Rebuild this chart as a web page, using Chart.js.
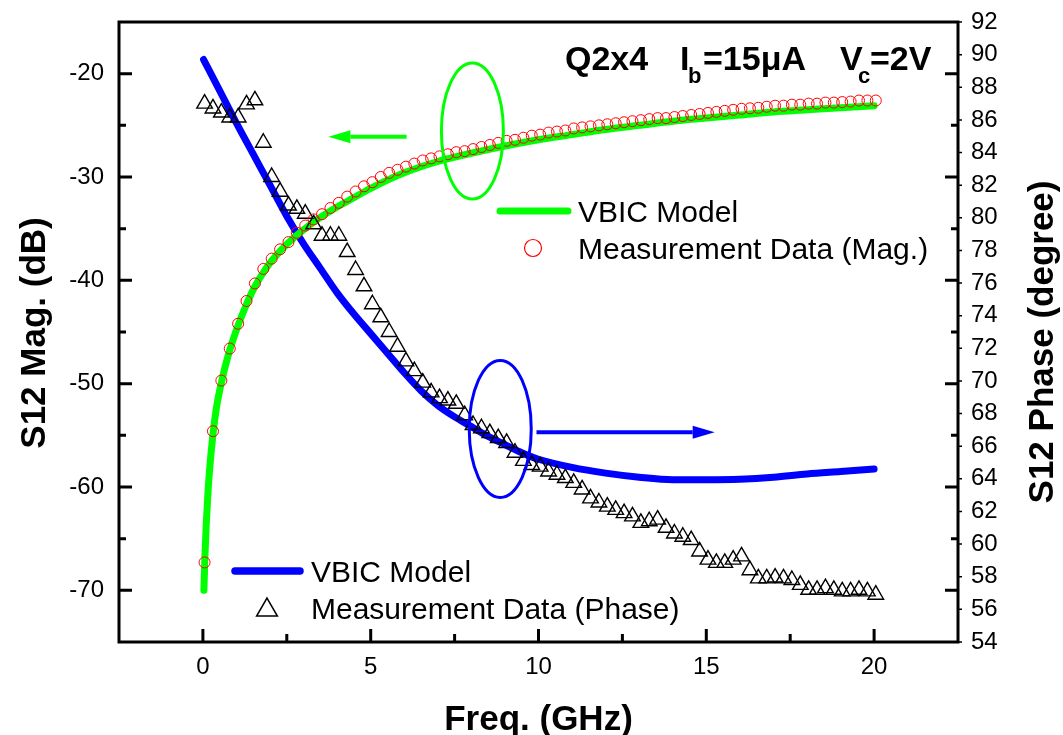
<!DOCTYPE html>
<html>
<head>
<meta charset="utf-8">
<title>S12 Mag / Phase - Q2x4</title>
<script src="https://cdn.jsdelivr.net/npm/chart.js@4.4.1/dist/chart.umd.min.js"></script>
<style>
  html, body { margin: 0; padding: 0; background: #fff; }
  #wrap { width: 1063px; height: 735px; }
</style>
</head>
<body>
<div id="wrap"><canvas id="s12" width="1063" height="735"></canvas></div>
<script>
// measured sweep (GHz)
const freqMeas = [
    0.05, 0.3, 0.55, 0.8, 1.05, 1.3, 1.55, 1.8, 2.05, 2.3,
    2.55, 2.8, 3.05, 3.3, 3.55, 3.8, 4.05, 4.3, 4.55, 4.8,
    5.05, 5.3, 5.55, 5.8, 6.05, 6.3, 6.55, 6.8, 7.05, 7.3,
    7.55, 7.8, 8.05, 8.3, 8.55, 8.8, 9.05, 9.3, 9.55, 9.8,
    10.05, 10.3, 10.55, 10.8, 11.05, 11.3, 11.55, 11.8, 12.05, 12.3,
    12.55, 12.8, 13.05, 13.3, 13.55, 13.8, 14.05, 14.3, 14.55, 14.8,
    15.05, 15.3, 15.55, 15.8, 16.05, 16.3, 16.55, 16.8, 17.05, 17.3,
    17.55, 17.8, 18.05, 18.3, 18.55, 18.8, 19.05, 19.3, 19.55, 19.8,
    20.05
];

// |S12| measured (dB)
const magMeas = [
    -67.3, -54.6, -49.7, -46.6, -44.2, -42.0, -40.3, -38.9, -37.9, -37.0,
    -36.3, -35.4, -34.7, -34.1, -33.6, -33.0, -32.5, -31.9, -31.4, -30.9,
    -30.5, -30.0, -29.6, -29.3, -29.0, -28.7, -28.4, -28.2, -28.0, -27.8,
    -27.6, -27.5, -27.3, -27.1, -26.9, -26.7, -26.5, -26.4, -26.2, -26.0,
    -25.9, -25.7, -25.6, -25.5, -25.3, -25.2, -25.1, -25.0, -24.9, -24.8,
    -24.7, -24.6, -24.5, -24.4, -24.3, -24.3, -24.2, -24.1, -24.0, -23.9,
    -23.8, -23.7, -23.6, -23.5, -23.4, -23.35, -23.3, -23.2, -23.1, -23.1,
    -23.0, -23.0, -22.9, -22.9, -22.8, -22.8, -22.75, -22.7, -22.6, -22.6,
    -22.6
];

// S12 phase measured (degree)
const phaseMeas = [
    87.0, 86.7, 86.45, 86.15, 86.15, 86.95, 87.2, 84.6, 82.5, 81.6,
    80.75, 80.55, 80.25, 79.6, 78.9, 78.9, 78.9, 77.9, 76.8, 75.8,
    74.7, 73.9, 73.0, 72.1, 71.2, 70.6, 69.9, 69.3, 68.95, 68.8,
    68.6, 67.9, 67.3, 67.1, 66.8, 66.5, 66.2, 65.6, 65.1, 64.85,
    64.75, 64.45, 64.25, 64.05, 63.75, 63.35, 62.8, 62.55, 62.3, 62.1,
    61.9, 61.7, 61.3, 61.4, 61.5, 61.0, 60.65, 60.45, 60.25, 59.55,
    59.05, 58.85, 58.85, 59.05, 59.25, 58.4, 57.9, 57.9, 57.95, 57.9,
    57.8, 57.5, 57.2, 57.2, 57.3, 57.2, 57.1, 57.1, 57.2, 57.1,
    56.9
];

// VBIC model, magnitude
const freqModelMag = [
    0.03, 0.06, 0.1, 0.15, 0.2, 0.3, 0.4, 0.55, 0.75, 1.0,
    1.25, 1.5, 1.75, 2.0, 2.5, 3.0, 3.5, 4.0, 4.5, 5.0,
    6.0, 7.0, 8.0, 9.0, 10.0, 11.0, 12.0, 13.0, 14.0, 15.0,
    16.0, 17.0, 18.0, 19.0, 20.0
];
const magModel = [
    -70.0, -66.8, -63.6, -60.6, -58.3, -54.9, -52.4, -49.9, -47.3, -44.8,
    -42.7, -40.9, -39.5, -38.3, -36.5, -35.1, -33.9, -32.9, -32.0, -31.1,
    -29.6, -28.5, -27.7, -27.0, -26.4, -25.9, -25.4, -25.0, -24.6, -24.3,
    -24.0, -23.7, -23.5, -23.3, -23.1
];

// VBIC model, phase
const freqModelPhase = [
    0.02, 0.5, 1.0, 1.5, 2.0, 2.5, 3.0, 3.5, 4.0, 4.5,
    5.0, 5.5, 6.0, 6.5, 7.0, 7.5, 8.0, 8.5, 9.0, 9.5,
    10.0, 11.0, 12.0, 13.0, 14.0, 15.0, 16.0, 17.0, 18.0, 19.0,
    20.0
];
const phaseModel = [
    89.7, 87.8, 85.8, 83.9, 82.0, 80.1, 78.4, 76.9, 75.4, 74.1,
    72.9, 71.7, 70.5, 69.4, 68.5, 67.8, 67.2, 66.6, 66.1, 65.6,
    65.2, 64.7, 64.35, 64.1, 63.95, 63.95, 63.98, 64.1, 64.3, 64.45,
    64.6
];

const freqTicks = [0, 5, 10, 15, 20];
const freqMinor = [2.5, 7.5, 12.5, 17.5];
const magTicks = [-70, -60, -50, -40, -30, -20];
const magMinor = [-65, -55, -45, -35, -25];

const FONT = '"Liberation Sans", Arial, sans-serif';
const GREEN = '#00ff00';
const BLUE = '#0000ff';

Chart.defaults.font.family = FONT;
Chart.defaults.color = '#000';

function pts(xs, ys) {
    return xs.map((x, i) => ({ x: x, y: ys[i] }));
}

function arrow(ctx, x1, x2, y, color) {
    const dir = Math.sign(x2 - x1);
    const head = 22;
    ctx.save();
    ctx.strokeStyle = color;
    ctx.fillStyle = color;
    ctx.lineWidth = 4;
    ctx.beginPath();
    ctx.moveTo(x1, y);
    ctx.lineTo(x2 - dir * head, y);
    ctx.stroke();
    ctx.beginPath();
    ctx.moveTo(x2, y);
    ctx.lineTo(x2 - dir * head, y - 6.5);
    ctx.lineTo(x2 - dir * head, y + 6.5);
    ctx.closePath();
    ctx.fill();
    ctx.restore();
}

function ellipse(ctx, cx, cy, rx, ry, color) {
    ctx.save();
    ctx.strokeStyle = color;
    ctx.lineWidth = 3;
    ctx.beginPath();
    ctx.ellipse(cx, cy, rx, ry, 0, 0, Math.PI * 2);
    ctx.stroke();
    ctx.restore();
}

function triangle(ctx, x, y, r) {
    ctx.beginPath();
    for (let k = 0; k < 3; k++) {
        const a = k * 2 * Math.PI / 3;
        const px = x + Math.sin(a) * r;
        const py = y - Math.cos(a) * r;
        if (k === 0) ctx.moveTo(px, py); else ctx.lineTo(px, py);
    }
    ctx.closePath();
    ctx.stroke();
}

// frame, inward ticks, legends, annotations
const decor = {
    id: 'decor',
    afterDatasetsDraw(chart) {
        const ctx = chart.ctx;
        const xs = chart.scales.x, yl = chart.scales.yMag, yr = chart.scales.yPhase;

        // grouping ellipses + arrows pointing to each axis
        ellipse(ctx, xs.getPixelForValue(8.03), yl.getPixelForValue(-25.55), 31, 68, GREEN);
        arrow(ctx, xs.getPixelForValue(6.07), xs.getPixelForValue(3.74), yl.getPixelForValue(-26.1), GREEN);
        ellipse(ctx, xs.getPixelForValue(8.86), yr.getPixelForValue(67.06), 31, 68.5, BLUE);
        arrow(ctx, xs.getPixelForValue(9.94), xs.getPixelForValue(15.25), yr.getPixelForValue(66.85), BLUE);
    },
    afterDraw(chart) {
        const ctx = chart.ctx;
        const a = chart.chartArea;
        const xs = chart.scales.x, yl = chart.scales.yMag, yr = chart.scales.yPhase;

        ctx.save();
        ctx.strokeStyle = '#000';
        ctx.lineWidth = 3;
        ctx.strokeRect(a.left, a.top, a.right - a.left, a.bottom - a.top);

        ctx.beginPath();
        freqTicks.forEach(v => {
            const px = xs.getPixelForValue(v);
            ctx.moveTo(px, a.bottom); ctx.lineTo(px, a.bottom - 13);
        });
        freqMinor.forEach(v => {
            const px = xs.getPixelForValue(v);
            ctx.moveTo(px, a.bottom); ctx.lineTo(px, a.bottom - 8);
        });
        magTicks.forEach(v => {
            const py = yl.getPixelForValue(v);
            ctx.moveTo(a.left, py); ctx.lineTo(a.left + 13, py);
            ctx.moveTo(a.right, py); ctx.lineTo(a.right - 13, py);
        });
        magMinor.forEach(v => {
            const py = yl.getPixelForValue(v);
            ctx.moveTo(a.left, py); ctx.lineTo(a.left + 7, py);
            ctx.moveTo(a.right, py); ctx.lineTo(a.right - 7, py);
        });
        ctx.stroke();

        // small outer ticks for the phase axis
        ctx.lineWidth = 1.5;
        ctx.beginPath();
        yr.ticks.forEach(t => {
            const py = yr.getPixelForValue(t.value);
            ctx.moveTo(a.right, py); ctx.lineTo(a.right + 4, py);
        });
        ctx.stroke();

        // legend: magnitude
        ctx.lineCap = 'round';
        ctx.strokeStyle = GREEN;
        ctx.lineWidth = 7;
        ctx.beginPath(); ctx.moveTo(500, 211); ctx.lineTo(568, 211); ctx.stroke();
        ctx.strokeStyle = '#ff0000';
        ctx.lineWidth = 1.2;
        ctx.beginPath(); ctx.arc(533, 248, 8.5, 0, Math.PI * 2); ctx.stroke();

        // legend: phase
        ctx.strokeStyle = BLUE;
        ctx.lineWidth = 7.5;
        ctx.beginPath(); ctx.moveTo(235, 571); ctx.lineTo(300, 571); ctx.stroke();
        ctx.strokeStyle = '#000';
        ctx.lineWidth = 1.5;
        ctx.lineCap = 'butt';
        triangle(ctx, 267, 610, 12);

        ctx.fillStyle = '#000';
        ctx.textBaseline = 'alphabetic';
        ctx.textAlign = 'left';
        ctx.font = '30px ' + FONT;
        ctx.fillText('VBIC Model', 578, 222);
        ctx.fillText('Measurement Data (Mag.)', 578, 259);
        ctx.fillText('VBIC Model', 311, 582);
        ctx.fillText('Measurement Data (Phase)', 311, 619);

        // device / bias
        ctx.font = 'bold 34px ' + FONT;
        ctx.fillText('Q2x4', 565, 70);
        ctx.fillText('I', 680, 70);
        ctx.fillText('=15\u03bcA', 703, 70);
        ctx.fillText('V', 840, 70);
        ctx.fillText('=2V', 870, 70);
        ctx.font = 'bold 22px ' + FONT;
        ctx.fillText('b', 688, 83);
        ctx.fillText('c', 858, 83);

        // axis titles
        ctx.font = 'bold 35px ' + FONT;
        ctx.textAlign = 'center';
        ctx.fillText('Freq. (GHz)', (a.left + a.right) / 2, 730);

        ctx.save();
        ctx.translate(45, 333);
        ctx.rotate(-Math.PI / 2);
        ctx.fillText('S12 Mag. (dB)', 0, 0);
        ctx.restore();

        ctx.save();
        ctx.translate(1053, 342);
        ctx.rotate(-Math.PI / 2);
        ctx.fillText('S12 Phase (degree)', 0, 0);
        ctx.restore();

        ctx.restore();
    }
};

const ctx = document.getElementById('s12').getContext('2d');

new Chart(ctx, {
    type: 'line',
    data: {
        datasets: [
            {
                label: 'Measurement Data (Mag.)',
                data: pts(freqMeas, magMeas),
                yAxisID: 'yMag',
                showLine: false,
                pointStyle: 'circle',
                pointRadius: 5.5,
                pointBorderWidth: 1,
                pointBorderColor: '#ff0000',
                pointBackgroundColor: 'rgba(0,0,0,0)',
                order: 0
            },
            {
                label: 'Measurement Data (Phase)',
                data: pts(freqMeas, phaseMeas),
                yAxisID: 'yPhase',
                showLine: false,
                pointStyle: 'triangle',
                pointRadius: 9,
                pointBorderWidth: 1.4,
                pointBorderColor: '#000',
                pointBackgroundColor: 'rgba(0,0,0,0)',
                order: 1
            },
            {
                label: 'VBIC Model',
                data: pts(freqModelMag, magModel),
                yAxisID: 'yMag',
                borderColor: GREEN,
                borderWidth: 7,
                borderCapStyle: 'round',
                borderJoinStyle: 'round',
                cubicInterpolationMode: 'monotone',
                pointRadius: 0,
                fill: false,
                order: 2
            },
            {
                label: 'VBIC Model',
                data: pts(freqModelPhase, phaseModel),
                yAxisID: 'yPhase',
                borderColor: BLUE,
                borderWidth: 7,
                borderCapStyle: 'round',
                borderJoinStyle: 'round',
                cubicInterpolationMode: 'monotone',
                pointRadius: 0,
                fill: false,
                order: 3
            }
        ]
    },
    options: {
        responsive: false,
        animation: false,
        events: [],
        layout: { padding: { top: 22, left: 0, right: 0, bottom: 0 } },
        plugins: {
            legend: { display: false },
            tooltip: { enabled: false }
        },
        scales: {
            x: {
                type: 'linear',
                position: 'bottom',
                min: -2.5,
                max: 22.5,
                grid: { display: false, drawTicks: false },
                border: { display: false },
                ticks: { font: { size: 24 }, padding: 11, maxRotation: 0 },
                afterBuildTicks: axis => { axis.ticks = freqTicks.map(v => ({ value: v })); },
                afterFit: s => { s.height = 93; s.paddingLeft = 0; s.paddingRight = 0; }
            },
            yMag: {
                type: 'linear',
                position: 'left',
                min: -75,
                max: -15,
                grid: { display: false, drawTicks: false },
                border: { display: false },
                ticks: { font: { size: 24 }, padding: 15 },
                afterBuildTicks: axis => { axis.ticks = magTicks.map(v => ({ value: v })); },
                afterFit: s => { s.width = 119; s.paddingTop = 0; s.paddingBottom = 0; }
            },
            yPhase: {
                type: 'linear',
                position: 'right',
                min: 54,
                max: 92,
                grid: { display: false, drawTicks: false },
                border: { display: false },
                ticks: { font: { size: 24 }, padding: 13, stepSize: 2, autoSkip: false },
                afterFit: s => { s.width = 105; s.paddingTop = 0; s.paddingBottom = 0; }
            }
        }
    },
    plugins: [decor]
});
</script>
</body>
</html>
